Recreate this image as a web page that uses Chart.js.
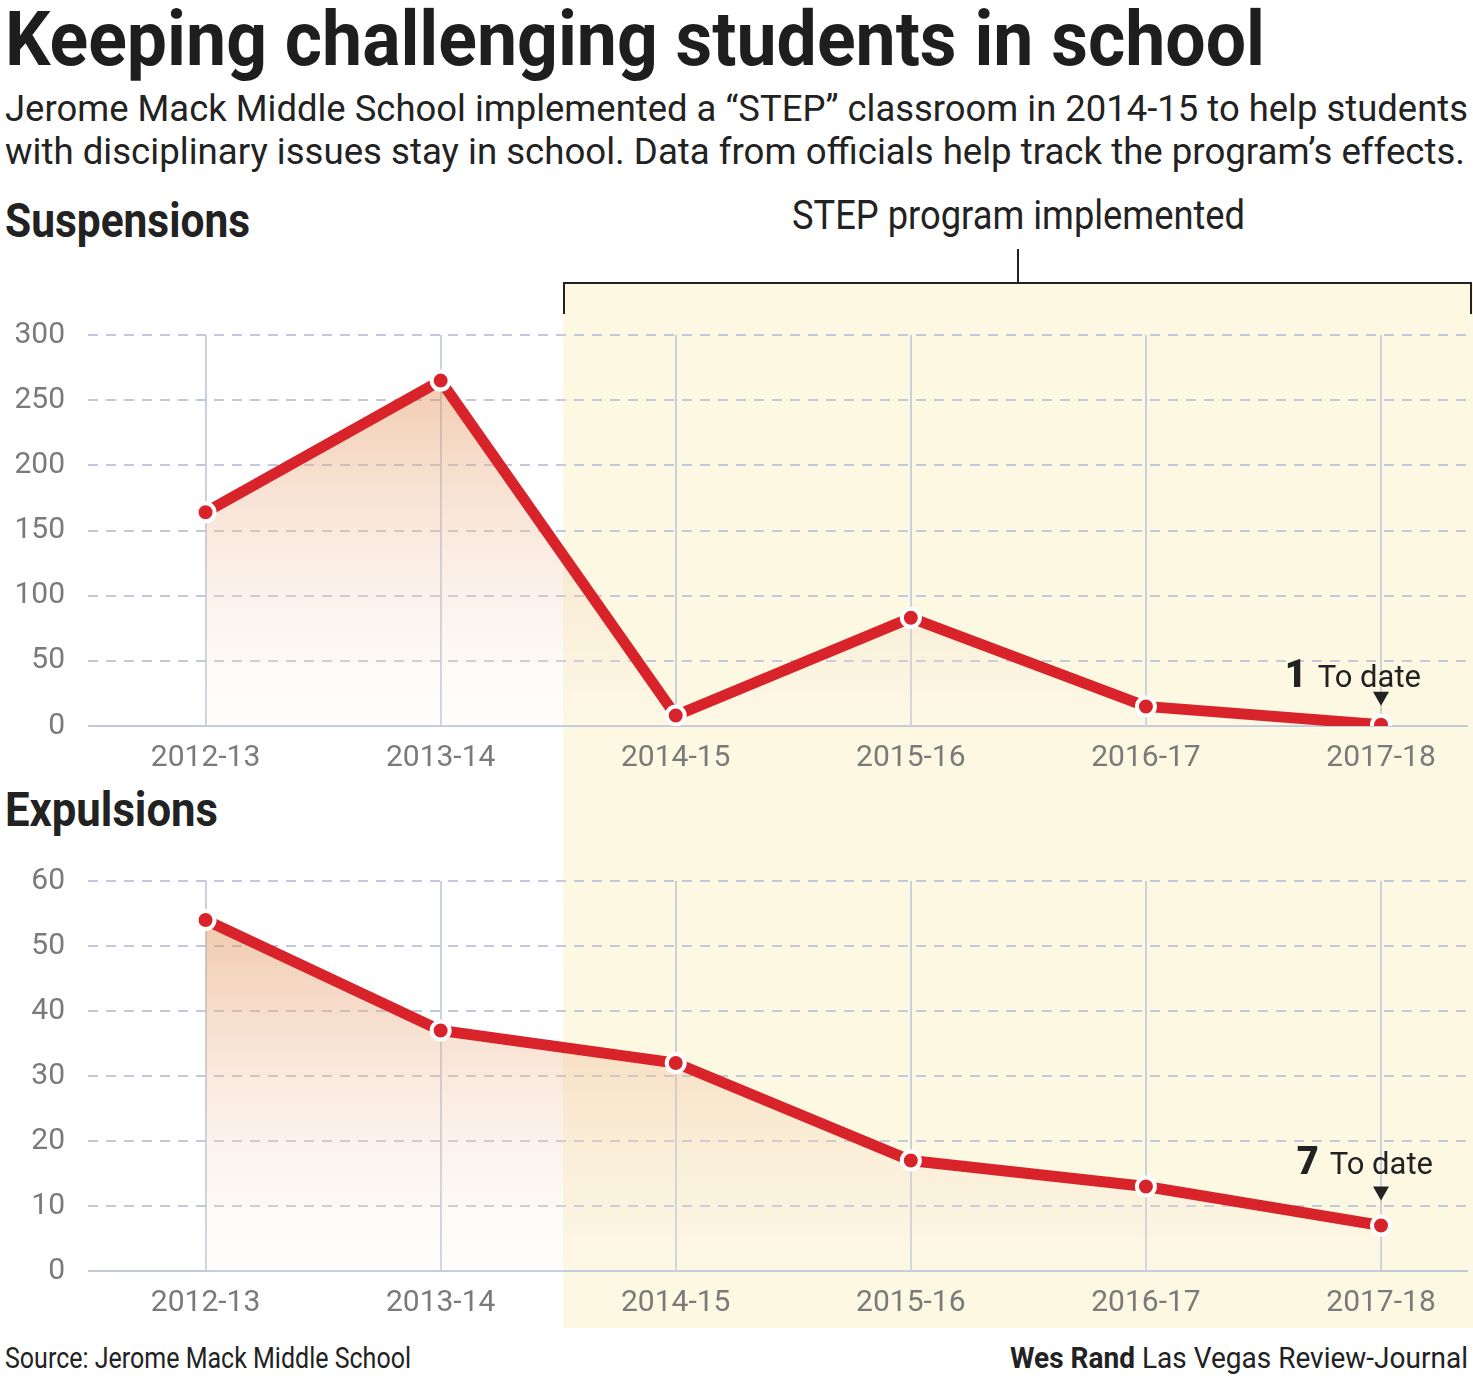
<!DOCTYPE html>
<html>
<head>
<meta charset="utf-8">
<script src="https://cdn.jsdelivr.net/npm/chart.js@4.4.1/dist/chart.umd.min.js"></script>
<style>
  body { margin: 0; width: 1473px; height: 1379px; background: #fff; overflow: hidden; position: relative; font-family: Roboto, sans-serif; color: #222; }
  .abs { position: absolute; white-space: nowrap; line-height: 1; transform-origin: left top; }
  #band { position: absolute; left: 563px; top: 283px; width: 910px; height: 1045px; background: #fdf8e2; }
  .br { position: absolute; background: #222; }
  canvas { position: absolute; left: 0; }
</style>
</head>
<body>
<div id="band"></div>
<div class="br" style="left:563px;top:282px;width:909px;height:2px"></div>
<div class="br" style="left:563px;top:282px;width:2px;height:32px"></div>
<div class="br" style="left:1470px;top:282px;width:2px;height:32px"></div>
<div class="br" style="left:1017px;top:249px;width:2px;height:34px"></div>

<div class="abs" data-w="1260" style="left:5px;top:1px;font-size:76px;font-weight:700;color:#1e1e1e">Keeping challenging students in school</div>
<div class="abs" data-w="1463" style="left:5px;top:90px;font-size:37px">Jerome Mack Middle School implemented a “STEP” classroom in 2014-15 to help students</div>
<div class="abs" data-w="1460" style="left:5px;top:133px;font-size:37px">with disciplinary issues stay in school. Data from officials help track the program’s effects.</div>
<div class="abs" data-w="245" style="left:5px;top:197px;font-size:48px;font-weight:700">Suspensions</div>
<div class="abs" data-w="453" style="left:792px;top:196px;font-size:40px">STEP program implemented</div>
<div class="abs" data-w="213" style="left:5px;top:786px;font-size:48px;font-weight:700">Expulsions</div>

<canvas id="suspChart" width="1481" height="488" style="top:294px"></canvas>
<canvas id="expChart" width="1481" height="487" style="top:840px"></canvas>

<div class="abs" data-w="406" style="left:5px;top:1343px;font-size:30px">Source: Jerome Mack Middle School</div>
<div class="abs" data-w="458" style="left:1010px;top:1343px;font-size:30px"><b>Wes Rand</b> Las Vegas Review-Journal</div>

<script>
// dados
const seasons = ['2012-13', '2013-14', '2014-15', '2015-16', '2016-17', '2017-18'];
const suspensions = [164, 265, 8, 83, 15, 1];
const expulsions = [54, 37, 32, 17, 13, 7];
const suspTicks = [0, 50, 100, 150, 200, 250, 300];
const expTicks = [0, 10, 20, 30, 40, 50, 60];

// ajusta a largura dos textos
document.querySelectorAll('[data-w]').forEach(el => {
  const w = el.getBoundingClientRect().width;
  el.style.transform = 'scaleX(' + (parseFloat(el.dataset.w) / w) + ')';
});

// anotação "To date"
const toDatePlugin = {
  id: 'toDate',
  afterDatasetsDraw(chart, args, opts) {
    const meta = chart.getDatasetMeta(0);
    const last = meta.data.length - 1;
    const p = meta.data[last];
    const value = chart.data.datasets[0].data[last].y;
    const c = chart.ctx;
    c.save();
    c.fillStyle = '#222';
    const tip = p.y - opts.arrow;
    c.beginPath();
    c.moveTo(p.x - 8, tip - 14);
    c.lineTo(p.x + 8, tip - 14);
    c.lineTo(p.x, tip);
    c.closePath();
    c.fill();
    const right = p.x + opts.dx;
    const base = p.y - opts.text;
    c.textBaseline = 'alphabetic';
    c.textAlign = 'right';
    c.font = '31px Roboto';
    c.fillText('To date', right, base);
    const w = c.measureText('To date').width;
    c.font = '900 38px Roboto';
    c.fillText(String(value), right - w - 11, base);
    c.restore();
  }
};

function fillGradient(ctx) {
  const a = ctx.chart.chartArea;
  if (!a) return 'transparent';
  const g = ctx.chart.ctx.createLinearGradient(0, a.top, 0, a.bottom);
  g.addColorStop(0, 'rgba(222,128,62,0.5)');
  g.addColorStop(1, 'rgba(252,246,240,0.15)');
  return g;
}

function makeChart(id, values, ticks, note) {
  new Chart(document.getElementById(id), {
    type: 'line',
    data: {
      datasets: [{
        data: values.map((v, i) => ({ x: i, y: v })),
        borderColor: '#d8232a',
        borderWidth: 11,
        fill: 'origin',
        backgroundColor: fillGradient,
        pointRadius: 9,
        pointBorderWidth: 4,
        pointBorderColor: '#fff',
        pointBackgroundColor: '#d8232a',
        tension: 0
      }]
    },
    options: {
      responsive: false,
      animation: false,
      layout: { padding: { top: 20, right: 6, left: 0, bottom: 0 } },
      scales: {
        x: {
          type: 'linear',
          min: -0.5,
          max: 5.37,
          afterBuildTicks: s => { s.ticks = seasons.map((l, i) => ({ value: i })); },
          afterFit: s => { s.height = 56; },
          grid: { color: '#c9d1df', lineWidth: 2, drawTicks: false },
          border: { display: false },
          ticks: {
            callback: v => seasons[v],
            color: '#7a7a7a',
            font: { family: 'Roboto', size: 30 },
            padding: 14,
            maxRotation: 0,
            autoSkip: false
          }
        },
        y: {
          min: ticks[0],
          max: ticks[ticks.length - 1],
          afterBuildTicks: s => { s.ticks = ticks.map(v => ({ value: v })); },
          afterFit: s => { s.width = 88; },
          grid: {
            color: '#c4c9da',
            lineWidth: 2,
            drawTicks: false
          },
          border: {
            display: false,
            dash: ctx => (ctx.tick && ctx.tick.value === 0) ? [] : [10, 8]
          },
          ticks: {
            color: '#7a7a7a',
            font: { family: 'Roboto', size: 30 },
            padding: 23
          }
        }
      },
      plugins: {
        legend: { display: false },
        tooltip: { enabled: false },
        toDate: note
      }
    },
    plugins: [toDatePlugin]
  });
}

// Gráfico de suspensões
makeChart('suspChart', suspensions, suspTicks, { arrow: 19, text: 38, dx: 40 });
// Gráfico de expulsões
makeChart('expChart', expulsions, expTicks, { arrow: 25, text: 52, dx: 52 });
</script>
</body>
</html>
